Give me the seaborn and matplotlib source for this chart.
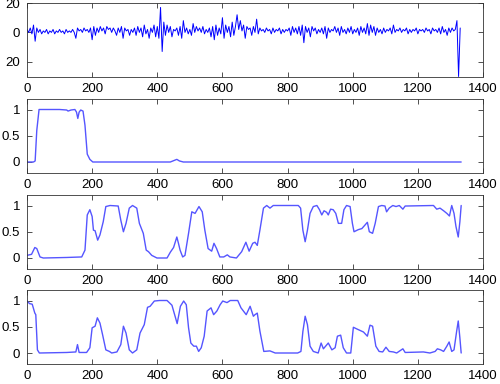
import numpy as np
import pandas as pd
import matplotlib
matplotlib.use("Agg")
import matplotlib.pyplot as plt
import seaborn as sns

# ---------------- data ----------------
# Panel 1: raw signal sampled every 5 units
signal = [
    2, 0, 3, -1, 5, -6, 3, 0, 2, -1, 1, 0, 2, -1, 1, 0, 2, -1, 1, 0,
    2, 0, 1, -1, 2, 0, 1, 0, 2, 0, -4, 3, 1, 2, 0, 3, 1, 2, 0, 3,
    -5, 4, -2, 3, 0, 4, 1, 3, -1, 4, 2, 3, 0, 3, 1, -2, 3, 0, 4, -4,
    3, 1, 2, -2, 2, 0, 3, -2, 4, 0, 3, -3, 5, -1, 2, -4, 3, 0, 5, -3,
    4, -4, 17, -13, 7, -2, 5, 0, 4, -3, 2, 1, 3, -2, 4, -4, 8, 0, 3, -1,
    2, -2, 6, 0, 4, 1, 3, 0, 4, -1, 2, 0, 3, -3, 4, -5, 5, -2, 3, -1,
    10, -4, 5, 0, 4, -3, 7, -2, 4, 12, 2, 8, 1, 5, -4, 4, 2, 3, -2, 4,
    0, 9, -1, 3, 1, 2, 0, 3, 1, 2, -1, 3, 0, 2, 1, 3, -1, 2, 0, 2,
    1, 3, -2, 4, 0, 3, -1, 4, -2, 5, -7, 4, 0, 3, -3, 4, 1, 3, -1, 2,
    0, 3, -1, 4, -4, 3, 0, 2, 1, 4, 0, 3, -2, 4, 0, 2, -1, 3, 0, 4,
    -1, 2, 0, 3, -2, 4, 0, 3, -1, 6, -2, 5, 0, 4, -2, 3, 0, 2, -1, 3,
    0, 2, 1, 3, -1, 5, 0, 2, 1, 3, 0, 2, 1, 3, -1, 2, 0, 2, 1, 3,
    -1, 2, 1, 2, 0, 3, 1, 2, -1, 3, 1, 2, 0, 3, -1, 4, 0, 2, -2, 3,
    0, 3, 1, 2, 8, -30, 3,
]
signal_x = list(range(0, 5 * len(signal), 5))

# Panel 2
p2_x = [0, 20, 25, 30, 37, 60, 100, 122, 126, 135, 147, 152, 156, 160, 165,
        172, 178, 185, 193, 202, 300, 440, 452, 460, 468, 480, 800, 1333]
p2_y = [0, 0, 0.02, 0.6, 1.0, 1.0, 1.0, 0.99, 0.97, 0.99, 1.0, 0.95, 0.83, 0.95,
        0.99, 0.97, 0.7, 0.15, 0.05, 0.0, 0.0, 0.0, 0.03, 0.05, 0.02, 0.0, 0.0, 0.0]

# Panel 3
p3_x = [0, 14, 24, 30, 40, 50, 122, 168, 178, 185, 193, 200, 204, 209, 217, 224,
        234, 242, 255, 280, 288, 296, 304, 314, 324, 337, 345, 357, 366, 373, 383,
        399, 430, 440, 450, 460, 465, 470, 478, 485, 496, 506, 516, 528, 538, 546,
        556, 567, 574, 582, 592, 604, 615, 623, 643, 659, 672, 682, 693, 700, 707,
        715, 726, 736, 746, 756, 833, 840, 847, 854, 861, 869, 879, 890, 898, 905,
        912, 920, 925, 932, 940, 948, 956, 966, 973, 981, 992, 999, 1004, 1017,
        1028, 1038, 1045, 1051, 1061, 1069, 1079, 1089, 1099, 1104, 1112, 1123,
        1133, 1143, 1154, 1161, 1248, 1258, 1268, 1279, 1289, 1297, 1304, 1311,
        1317, 1324, 1329, 1333]
p3_y = [0.05, 0.07, 0.2, 0.18, 0.02, 0.0, 0.01, 0.02, 0.15, 0.82, 0.92, 0.79, 0.53,
        0.52, 0.34, 0.44, 0.69, 0.98, 1.0, 0.99, 0.72, 0.5, 0.66, 0.95, 1.0, 0.95,
        0.66, 0.47, 0.15, 0.12, 0.05, 0.0, 0.0, 0.11, 0.2, 0.4, 0.28, 0.15, 0.02,
        0.05, 0.47, 0.88, 0.85, 0.98, 0.88, 0.53, 0.18, 0.13, 0.28, 0.18, 0.02,
        0.02, 0.06, 0.02, 0.0, 0.12, 0.3, 0.13, 0.28, 0.3, 0.24, 0.53, 0.95, 1.0,
        0.95, 1.0, 1.0, 0.95, 0.53, 0.31, 0.53, 0.85, 0.98, 1.0, 0.92, 0.82, 0.9,
        0.87, 0.82, 0.93, 0.92, 0.85, 0.66, 0.66, 0.92, 1.0, 0.98, 0.66, 0.5, 0.54,
        0.56, 0.63, 0.68, 0.5, 0.47, 0.66, 0.98, 1.0, 0.99, 0.88, 0.95, 1.0, 0.98,
        1.0, 0.93, 0.99, 1.0, 0.93, 0.95, 0.9, 0.85, 0.8, 1.0, 0.85, 0.6, 0.4,
        0.69, 1.0]

# Panel 4
p4_x = [0, 8, 16, 24, 27, 32, 38, 122, 150, 155, 160, 183, 193, 200, 209, 216,
        224, 232, 242, 253, 260, 276, 288, 296, 304, 314, 324, 337, 347, 360, 370,
        378, 391, 407, 430, 445, 456, 461, 471, 481, 489, 496, 503, 512, 520, 527,
        535, 544, 553, 565, 573, 583, 593, 601, 614, 624, 647, 657, 673, 685, 695,
        700, 707, 715, 727, 746, 762, 831, 841, 847, 854, 861, 869, 879, 894, 903,
        910, 925, 936, 946, 953, 963, 971, 981, 994, 1002, 1012, 1033, 1045, 1053,
        1061, 1071, 1081, 1092, 1102, 1112, 1125, 1135, 1154, 1161, 1217, 1237,
        1253, 1260, 1270, 1279, 1289, 1296, 1304, 1311, 1319, 1324, 1329, 1333]
p4_y = [0.99, 0.94, 0.93, 0.76, 0.73, 0.06, 0.0, 0.01, 0.02, 0.16, 0.01, 0.01, 0.1,
        0.48, 0.51, 0.67, 0.57, 0.35, 0.06, 0.03, 0.0, 0.02, 0.16, 0.51, 0.38, 0.06,
        0.0, 0.06, 0.38, 0.54, 0.87, 0.89, 0.99, 1.0, 1.0, 0.91, 0.67, 0.56, 0.89,
        0.99, 0.92, 0.48, 0.19, 0.13, 0.13, 0.03, 0.1, 0.32, 0.8, 0.86, 0.73, 0.8,
        0.92, 0.99, 0.96, 1.0, 1.0, 0.86, 0.73, 0.89, 0.7, 0.73, 0.76, 0.42, 0.03,
        0.04, 0.0, 0.0, 0.03, 0.41, 0.7, 0.54, 0.13, 0.03, 0.0, 0.19, 0.08, 0.19,
        0.06, 0.1, 0.32, 0.34, 0.1, 0.0, 0.0, 0.49, 0.46, 0.4, 0.32, 0.53, 0.51,
        0.13, 0.03, 0.02, 0.11, 0.03, 0.02, 0.0, 0.08, 0.01, 0.02, 0.0, 0.03, 0.08,
        0.06, 0.03, 0.13, 0.21, 0.03, 0.06, 0.41, 0.61, 0.29, 0.0]

x_ticks = [0, 200, 400, 600, 800, 1000, 1200, 1400]
y1_ticks = [-20, 0, 20]
y1_labels = ["20", "0", "20"]
yp_ticks = [0, 0.5, 1]
yp_labels = ["0", "0.5", "1"]

# ---------------- style ----------------
sns.set_theme(style="ticks")
plt.rcParams["font.family"] = ["Liberation Sans", "DejaVu Sans"]
plt.rcParams["font.size"] = 9.5

W, H = 500, 384
fig = plt.figure(figsize=(W / 100, H / 100), dpi=100)

left_px, right_px = 27, 483
tops = [3, 99, 195, 290]
height_px = 73.5

series = [
    (signal_x, signal, "#0000ff", 0.7, (-30, 20), y1_ticks, y1_labels),
    (p2_x, p2_y, "#5555ff", 1.0, (-0.2, 1.2), yp_ticks, yp_labels),
    (p3_x, p3_y, "#5555ff", 1.0, (-0.2, 1.2), yp_ticks, yp_labels),
    (p4_x, p4_y, "#5555ff", 1.0, (-0.2, 1.2), yp_ticks, yp_labels),
]

for top, (xs, ys, col, lw, ylim, yt, yl) in zip(tops, series):
    ax = fig.add_axes([left_px / W, 1 - (top + height_px) / H,
                       (right_px - left_px) / W, height_px / H])
    df = pd.DataFrame({"x": xs, "y": ys})
    sns.lineplot(data=df, x="x", y="y", ax=ax, color=col, linewidth=lw,
                 estimator=None, sort=False)
    ax.set_xlim(0, 1400)
    ax.set_ylim(*ylim)
    ax.set_xticks(x_ticks)
    ax.set_xticklabels([str(t) for t in x_ticks])
    ax.set_yticks(yt)
    ax.set_yticklabels(yl)
    ax.set_xlabel("")
    ax.set_ylabel("")
    ax.tick_params(direction="in", length=3.3, width=0.6, color="#333333",
                   top=True, right=True, labelsize=9.5, colors="#333333",
                   labelcolor="black")
    ax.tick_params(axis="x", pad=4.5)
    ax.tick_params(axis="y", pad=5)
    for s in ax.spines.values():
        s.set_visible(True)
        s.set_linewidth(0.6)
        s.set_color("#333333")

fig.savefig("out.png", dpi=100)
